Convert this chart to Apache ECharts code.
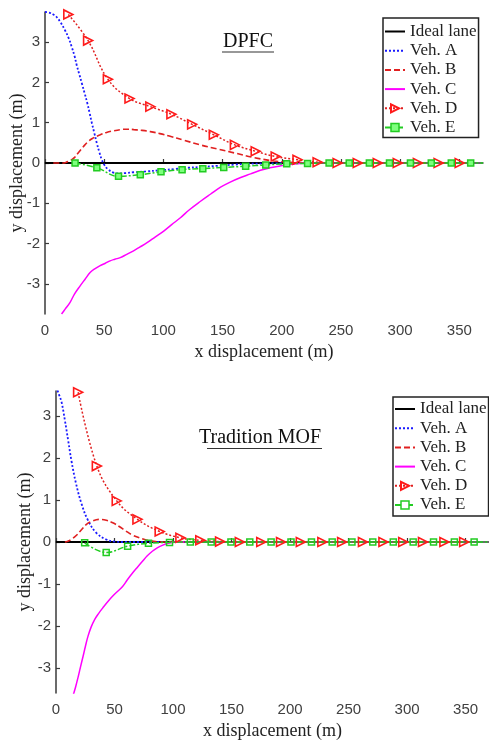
<!DOCTYPE html>
<html>
<head>
<meta charset="utf-8">
<script src="https://cdn.jsdelivr.net/npm/echarts@6/dist/echarts.min.js"></script>
<style>
html,body{margin:0;padding:0;background:#fff;}
#c{width:489px;height:742px;}
</style>
</head>
<body>
<div id="c"></div>
<script>
// ---- tick labels ----
const xTicks = [0, 50, 100, 150, 200, 250, 300, 350];
const yTicks = [-3, -2, -1, 0, 1, 2, 3];
const seriesNames = ['Ideal lane', 'Veh. A', 'Veh. B', 'Veh. C', 'Veh. D', 'Veh. E'];

// ---- DPFC (top) ----
const dpfcIdeal = [[0, 0], [215, 0]];
const dpfcA = [[0,3.75],[4,3.73],[8,3.67],[10,3.62],[13,3.5],[17,3.29],[20,3.1],[22.6,2.88],[25,2.65],[26.8,2.43],[29,2.2],[31.1,1.98],[33.5,1.73],[35.8,1.48],[37.7,1.24],[39.6,0.99],[41.7,0.74],[43.8,0.49],[46,0.26],[48,0.08],[50,-0.04],[53,-0.15],[57.9,-0.24],[63,-0.26],[68,-0.25],[74.8,-0.23],[85,-0.21],[97.5,-0.18],[110,-0.15],[120,-0.12],[132,-0.1],[145.5,-0.07],[160,-0.04],[171,-0.02],[190,-0.01],[215,0]];
const dpfcB = [[7,0],[15,0],[18,0.02],[20,0.05],[22.6,0.08],[25,0.14],[28,0.25],[32.5,0.41],[36,0.52],[40,0.61],[46.6,0.7],[52,0.76],[58,0.8],[64,0.83],[69,0.84],[75,0.83],[82,0.81],[89,0.78],[97,0.73],[105,0.67],[117,0.57],[131,0.45],[145.5,0.35],[160,0.25],[176.5,0.135],[193.5,0.05],[210,0.01],[222,0]];
const dpfcC = [[14,-3.75],[17,-3.63],[21.2,-3.46],[25,-3.25],[29.7,-3.05],[34,-2.88],[38.1,-2.72],[42,-2.63],[46.6,-2.55],[51,-2.49],[55,-2.43],[59,-2.39],[63.6,-2.35],[69,-2.27],[74.8,-2.18],[80,-2.09],[86.2,-1.98],[93,-1.84],[100.3,-1.69],[107,-1.53],[114.4,-1.36],[122,-1.16],[131.4,-0.95],[140,-0.77],[148.3,-0.6],[156,-0.48],[165.3,-0.36],[173.7,-0.27],[182,-0.18],[190,-0.12],[199,-0.07],[207,-0.035],[216,-0.01],[222,0]];
const dpfcDx = [19.7,36.4,53.1,71.4,89,106.8,124.3,142.6,160.4,178,194.9,213.3,230.3,247.2,264.2,281.1,298,315,332.5,350.3];
const dpfcDy = [3.69,3.04,2.08,1.6,1.4,1.21,0.96,0.7,0.45,0.29,0.16,0.08,0.02,0,0,0,0,0,0,0];
const dpfcEx = [25.4,43.8,62.1,80.5,98,115.8,133.3,151,169.5,186.5,204.2,221.8,240,257,274,291,308.7,326.3,343.2,359.6];
const dpfcEy = [0,-0.12,-0.33,-0.29,-0.22,-0.165,-0.14,-0.11,-0.08,-0.05,-0.02,-0.01,0,0,0,0,0,0,0,0];
const dpfcEEnd = [370, 0];

// ---- Tradition MOF (bottom) ----
const mofIdeal = [[0, 0], [110, 0]];
const mofA = [[0,3.7],[2.5,3.52],[4.8,3.33],[7.6,2.9],[10.4,2.42],[13.3,1.92],[16.9,1.42],[21.7,0.92],[27.3,0.52],[34.4,0.22],[42.9,0.06],[50,0.01],[58,0],[110,0]];
const mofB = [[7.6,0],[10,0.02],[13,0.06],[17.5,0.16],[21,0.27],[26,0.42],[31,0.5],[37.2,0.54],[43,0.52],[48.5,0.46],[54,0.37],[59.8,0.26],[65,0.17],[71.1,0.1],[77,0.05],[82.3,0.02],[90,0],[110,0]];
const mofC = [[13.3,-3.8],[14,-3.72],[16.8,-3.45],[18.9,-3.22],[21,-2.97],[23.1,-2.73],[25.2,-2.48],[27.3,-2.25],[30,-2.03],[33,-1.85],[36.5,-1.7],[40,-1.57],[44,-1.43],[48.1,-1.3],[52.5,-1.18],[56.9,-1.06],[61,-0.9],[65.4,-0.74],[69.6,-0.6],[73.9,-0.46],[78,-0.33],[82.3,-0.22],[86.5,-0.14],[90.8,-0.08],[95,-0.035],[99.2,-0.01],[105,0],[110,0]];
const mofDx = [18.9,34.9,51.9,69.6,88.6,106.3,123.3,140.2,157.1,175.4,192.3,209.2,227.6,244.5,262.3,279.8,296.7,313.6,331.9,348.8];
const mofDy = [3.57,1.81,0.98,0.54,0.25,0.1,0.04,0.01,0,0,0,0,0,0,0,0,0,0,0,0];
const mofEx = [24.5,42.9,61.2,79,97,114.8,132.6,149.5,165.6,183.8,200.8,218.3,236,252.9,270.7,288.2,305.2,322.6,340.4,357.3];
const mofEy = [-0.02,-0.25,-0.1,-0.03,-0.01,0,0,0,0,0,0,0,0,0,0,0,0,0,0,0];
const mofEEnd = [370, 0];

const zip = (xs, ys) => xs.map((x, i) => [x, ys[i]]);

const serif = 'Liberation Serif';
const sans = 'Liberation Sans';
const axisCol = '#3a3a3a';

function xAxisFor(grid) {
  return {
    type: 'value', gridIndex: grid, min: 0, max: 370,
    name: 'x displacement (m)', nameLocation: 'middle', nameGap: 29,
    nameTextStyle: { fontFamily: serif, fontSize: 18, color: '#222' },
    axisLine: { show: true, lineStyle: { color: axisCol, width: 1.5 } },
    axisTick: { show: true, inside: true, length: 4, customValues: xTicks, lineStyle: { color: axisCol, width: 1.2 } },
    axisLabel: { customValues: xTicks, fontFamily: sans, fontSize: 15, color: '#404040', margin: 9 },
    splitLine: { show: false }
  };
}
function yAxisFor(grid, lim, gap) {
  return {
    type: 'value', gridIndex: grid, min: -lim, max: lim,
    name: 'y displacement (m)', nameLocation: 'middle', nameGap: gap, nameRotate: 90,
    nameMoveOverlap: false,
    nameTextStyle: { fontFamily: serif, fontSize: 18, color: '#222' },
    axisLine: { show: true, lineStyle: { color: axisCol, width: 1.5 } },
    axisTick: { show: true, inside: true, length: 4, customValues: yTicks, lineStyle: { color: axisCol, width: 1.2 } },
    axisLabel: { customValues: yTicks, fontFamily: sans, fontSize: 15, color: '#404040', margin: 5 },
    splitLine: { show: false }
  };
}

function buildSeries(g, ideal, a, b, c, d, e, eEnd, eFill) {
  const base = { type: 'line', xAxisIndex: g, yAxisIndex: g, smooth: 0.4, animation: false, clip: true };
  return [
    Object.assign({}, base, { name: seriesNames[0], data: ideal, symbol: 'none', smooth: false,
      lineStyle: { color: '#000', width: 1.8, type: 'solid' }, itemStyle: { color: '#000' } }),
    Object.assign({}, base, { name: seriesNames[1], data: a, symbol: 'none',
      lineStyle: { color: '#1a1aff', width: 1.8, type: [2, 2] }, itemStyle: { color: '#1a1aff' } }),
    Object.assign({}, base, { name: seriesNames[2], data: b, symbol: 'none',
      lineStyle: { color: '#e02020', width: 1.6, type: [6, 3] }, itemStyle: { color: '#e02020' } }),
    Object.assign({}, base, { name: seriesNames[3], data: c, symbol: 'none',
      lineStyle: { color: '#ff00ff', width: 1.5, type: 'solid' }, itemStyle: { color: '#ff00ff' } }),
    Object.assign({}, base, { name: seriesNames[4], data: d, symbol: 'triangle', symbolSize: 9, symbolRotate: -90,
      showSymbol: true, showAllSymbol: true,
      lineStyle: { color: '#e02020', width: 1.5, type: [2, 2] },
      itemStyle: { color: 'rgba(255,255,255,0)', borderColor: '#ff1a1a', borderWidth: 1.6 } }),
    Object.assign({}, base, { name: seriesNames[5],
      data: e.map(p => ({ value: p })).concat([{ value: eEnd, symbol: 'none' }]),
      symbol: 'rect', symbolSize: 6, showSymbol: true, showAllSymbol: true,
      lineStyle: { color: '#22cc22', width: 1.5, type: [6, 2, 2, 2] },
      itemStyle: { color: eFill, borderColor: '#22cc22', borderWidth: 1.5 } })
  ];
}

function legendFor(left, top, pad, eFill) {
  return {
    orient: 'vertical', left: left, top: top, padding: pad,
    itemWidth: 20, itemHeight: 10, itemGap: 2.2,
    backgroundColor: '#fff', borderColor: '#222', borderWidth: 1.5, borderRadius: 0,
    textStyle: { fontFamily: serif, fontSize: 17, color: '#222', lineHeight: 17 },
    data: seriesNames.map((n, i) => (i < 4 ? { name: n, itemStyle: { opacity: 0 } }
      : (i === 5 ? { name: n, itemStyle: { color: eFill, borderColor: '#22cc22', borderWidth: 1.5 } } : { name: n })))
  };
}

const chart = echarts.init(document.getElementById('c'), null, { renderer: 'canvas' });
const option = {
  backgroundColor: '#fff',
  animation: false,
  grid: [
    { left: 45, top: 12, width: 438, height: 302 },
    { left: 56, top: 391, width: 437, height: 302 }
  ],
  xAxis: [xAxisFor(0), xAxisFor(1)],
  yAxis: [yAxisFor(0, 3.75, 19), yAxisFor(1, 3.6, 22)],
  legend: [
    legendFor(383, 18, [5, 2, 1.5, 1], '#7dff7d'),
    legendFor(393, 397, [3.5, 2, 2.5, 1], '#ffffff')
  ],
  graphic: [
    { type: 'text', x: 248, y: 42, style: { text: 'DPFC', fontFamily: serif, fontSize: 20, fill: '#111', textAlign: 'center', textVerticalAlign: 'middle' } },
    { type: 'line', shape: { x1: 222, y1: 52, x2: 274, y2: 52 }, style: { stroke: '#333', lineWidth: 1.2 } },
    { type: 'text', x: 260, y: 438, style: { text: 'Tradition MOF', fontFamily: serif, fontSize: 20, fill: '#111', textAlign: 'center', textVerticalAlign: 'middle' } },
    { type: 'line', shape: { x1: 207, y1: 448.5, x2: 322, y2: 448.5 }, style: { stroke: '#333', lineWidth: 1.2 } }
  ],
  series: [].concat(
    buildSeries(0, dpfcIdeal, dpfcA, dpfcB, dpfcC, zip(dpfcDx, dpfcDy), zip(dpfcEx, dpfcEy), dpfcEEnd, '#7dff7d'),
    buildSeries(1, mofIdeal, mofA, mofB, mofC, zip(mofDx, mofDy), zip(mofEx, mofEy), mofEEnd, 'rgba(255,255,255,0)')
  )
};
chart.setOption(option);
</script>
</body>
</html>
